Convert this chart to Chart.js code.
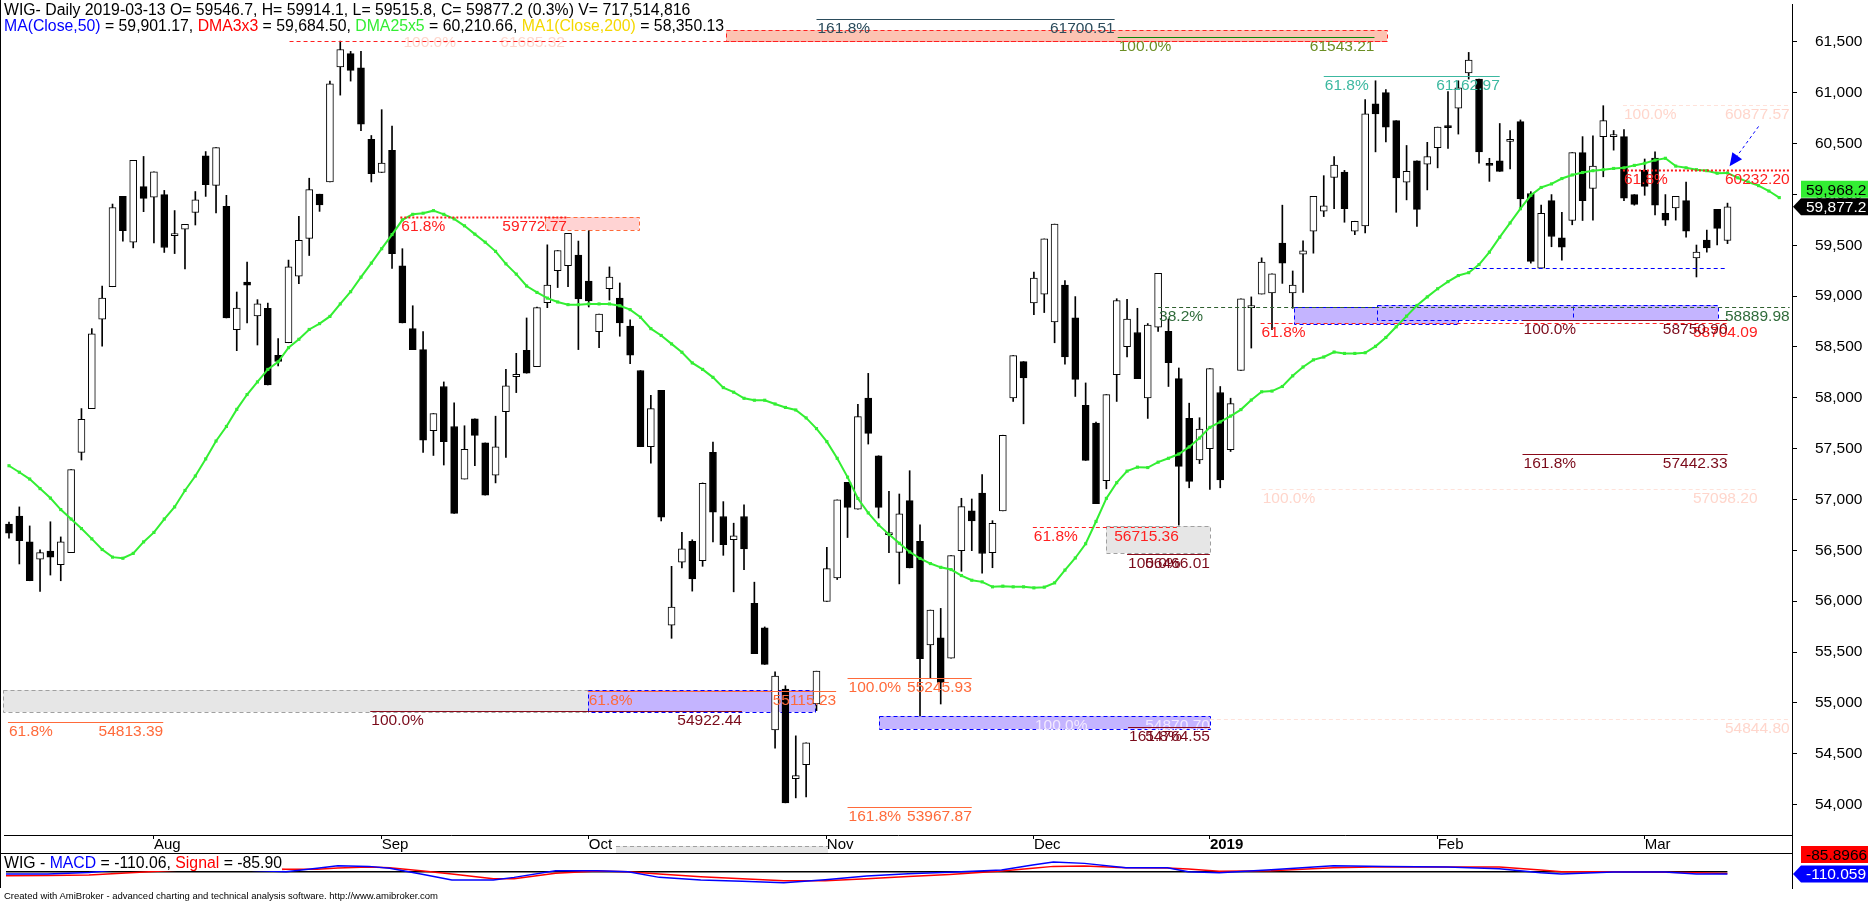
<!DOCTYPE html>
<html>
<head>
<meta charset="utf-8">
<script src="https://cdn.jsdelivr.net/npm/chart.js@4.4.1/dist/chart.umd.min.js"></script>
<style>
html, body { margin: 0; padding: 0; background: #fff; }
body { width: 1868px; height: 902px; position: relative; overflow: hidden; font-family: "Liberation Sans", Arial, sans-serif; }
#priceChart { position: absolute; left: 0; top: 0; }
#macdChart { position: absolute; left: 0; top: 835px; }
.ttl { position: absolute; left: 4px; font-size: 15.8px; line-height: 16px; white-space: nowrap; background: #fff; color: #000; }
#footer { position: absolute; left: 4px; top: 890px; font-size: 9.5px; line-height: 11px; white-space: nowrap; color: #000; }
</style>
</head>
<body>
<canvas id="priceChart" width="1868" height="854"></canvas>
<canvas id="macdChart" width="1868" height="67"></canvas>
<div class="ttl" style="top:2px">WIG- Daily 2019-03-13 O= 59546.7, H= 59914.1, L= 59515.8, C= 59877.2 (0.3%) V= 717,514,816</div>
<div class="ttl" style="top:18px"><span style="color:#0000ff">MA(Close,50)</span> = 59,901.17, <span style="color:#ff0000">DMA3x3</span> = 59,684.50, <span style="color:#33ee33">DMA25x5</span> = 60,210.66, <span style="color:#f5d800">MA1(Close,200)</span> = 58,350.13</div>
<div class="ttl" style="top:855px">WIG - <span style="color:#0000ff">MACD</span> = -110.06, <span style="color:#ff0000">Signal</span> = -85.90</div>
<div id="footer">Created with AmiBroker - advanced charting and technical analysis software. http://www.amibroker.com</div>
<script>
// daily bars, 2018-07-12 .. 2019-03-13 (index 0..166)
const opens = [56759,56837,56583,56414,56493,56358,56478,57463,57894,58774,59092,59980,59530,60077,59972,59998,59594,59657,59822,60380,
  60088,59882,58669,59137,58804,58879,58418,58541,59197,59568,60002,60122,61253,61384,61245,60541,60215,60433,59298,58680,
  58474,57676,58111,57718,57201,57792,57556,57238,57864,58208,58466,58305,58935,59249,59298,59403,59148,58650,59073,58980,
  58706,58268,57519,58073,55763,56384,56588,56399,57463,56833,56604,56833,55978,55737,54735,55136,54256,54393,54989,55997,
  56229,57168,56905,57996,57430,56654,56480,56989,56588,55570,55639,55440,56497,56888,57063,56476,56888,57999,58356,58932,
  59020,58747,59107,58786,57926,57751,57185,58227,58503,58642,57999,58695,58653,58188,57797,57388,57500,58052,57489,58268,
  58887,59020,59030,59520,59030,59411,59639,59834,60166,60219,59639,59691,60890,61001,60725,60121,60330,60296,60460,60673,
  60848,61194,61134,60302,60330,60522,60715,60009,59275,59939,59572,59743,60411,60058,60568,60568,60568,59998,60236,60358,
  59813,59866,59939,59376,59551,59852,59546.7];
const highs = [56777,56927,56740,56504,56781,56632,57294,57894,58680,59099,59905,59980,60335,60373,60223,60039,59841,59706,60028,60421,
  60459,59991,59040,59335,58965,58931,58583,59354,59785,60159,60002,61114,61507,61406,61406,60579,60833,60672,59466,58905,
  58650,57845,58156,57950,57725,57792,57556,57819,58279,58437,58785,58893,59504,59448,59616,59541,59642,58822,59287,59129,
  58766,58268,58025,58073,56343,56676,56604,57163,57564,56979,56767,56947,56187,55747,55306,55169,54676,54608,55312,56529,
  56996,57168,57936,58240,57430,57080,57054,57283,56751,55913,55929,56448,57012,57005,57245,56792,57632,58415,58356,59237,
  59562,59708,59153,58995,58146,57761,58031,58974,58967,58880,58730,59223,58775,58293,57947,57804,58286,58111,57996,58974,
  58992,59376,59219,59894,59247,59544,59981,60184,60372,60236,59736,60932,61117,61030,60725,60481,60330,60512,60662,61012,
  61117,61396,61134,60355,60697,60628,60732,60027,59894,59998,59824,60411,60568,60575,60872,60628,60638,59998,60348,60418,
  59998,59981,60121,59502,59649,59852,59914.1];
const lows = [56620,56366,56201,56096,56257,56201,56478,57388,57894,58508,59092,59541,59474,59830,59523,59429,59418,59268,59699,59980,
  59818,58785,58463,58736,58519,58126,58313,58541,59122,59399,59833,60122,60976,61114,60627,60122,60215,59272,58736,58474,
  57463,57433,57339,56864,57201,57332,57043,57163,57414,58051,58242,58305,58886,59084,59092,58474,58893,58493,58961,58605,
  58335,57519,57358,56789,55635,56328,56099,56343,56583,56451,56092,56311,55485,55378,54556,54017,54066,54076,54924,55997,
  56213,56626,56905,57545,56818,56476,56170,56327,54872,55244,54989,55440,56294,56497,56276,56329,56888,57964,57744,58817,
  58838,58541,58331,58013,57384,56958,57105,57964,58401,58188,57797,58653,58111,56748,57115,57353,57098,57115,57472,58268,
  58489,59020,58670,59125,58880,59037,59422,59782,59859,59726,59604,59621,60418,60516,59824,59946,59684,60044,60261,60453,
  60593,61134,60306,60128,60226,60250,59859,59324,59275,59485,59352,59701,59743,59747,60173,60435,59939,59894,59991,59799,
  59694,59747,59579,59188,59432,59502,59515.8];
const closes = [56669,56594,56201,56478,56433,56583,57294,57789,58628,58980,59871,59642,60335,59961,60223,59478,59613,59706,59946,60096,
  60459,58785,58882,59107,58923,58126,58358,59287,59549,60047,59897,61088,61425,61219,60691,60204,60309,59418,58736,58474,
  57583,57845,57568,56864,57493,57631,57043,57519,58118,58231,58242,58886,59107,59448,59616,58972,58953,58822,59186,58736,
  58418,57519,57894,56826,55942,56515,56219,57159,56875,56555,56643,56513,55485,55378,55263,54017,54285,54608,55312,56320,
  56996,56923,57814,57650,56923,56658,56859,56327,55436,55913,55202,56448,56930,56790,56469,56766,57632,58415,58195,59177,
  59562,59708,58401,58181,57384,56958,58031,58957,58775,58188,58716,59223,58345,57325,57178,57692,58286,57192,57943,58974,
  58904,59334,59219,59324,59107,59446,59981,59887,60289,59859,59736,60792,60792,60662,60163,60226,59852,60372,60662,60656,
  61047,61320,60418,60285,60226,60540,59956,59341,59813,59586,59481,60411,59939,60278,60725,60575,59963,59901,60079,59894,
  59747,59981,59639,59432,59474,59666,59877.2];

// DMA25x5 (green), shifted 5 bars forward -> index 0..171
const dma25x5 = [57332,57268,57201,57107,57014,56901,56808,56714,56613,56508,56433,56422,56470,56583,56676,56808,56927,57089,57231,57399,
  57575,57718,57886,58032,58156,58279,58354,58493,58575,58672,58729,58800,58923,59043,59186,59324,59466,59605,59750,59804,
  59815,59840,59804,59759,59691,59609,59530,59440,59317,59216,59099,59036,58980,58942,58916,58916,58923,58923,58923,58905,
  58867,58792,58680,58613,58530,58448,58343,58279,58201,58100,58055,57995,57976,57976,57939,57905,57880,57802,57697,57569,
  57405,57220,57010,56868,56750,56657,56570,56484,56420,56370,56333,56311,56252,56206,56190,56141,56148,56141,56141,56131,
  56138,56180,56306,56425,56565,56784,57011,57165,57279,57318,57314,57367,57405,57447,57517,57604,57709,57762,57820,57884,
  57978,58059,58066,58111,58216,58303,58373,58401,58450,58436,58436,58443,58506,58593,58698,58803,58908,58992,59072,59142,
  59202,59230,59310,59432,59579,59719,59859,59991,60068,60103,60156,60191,60215,60233,60243,60255,60261,60285,60306,60337,
  60355,60278,60261,60243,60233,60208,60211,60163,60121,60086,60033,59968.2];

const monthStarts = [14, 36, 56, 79, 99, 116, 138, 158];
const monthLabels = ['Aug', 'Sep', 'Oct', 'Nov', 'Dec', '2019', 'Feb', 'Mar'];
const priceTicks = [54000, 54500, 55000, 55500, 56000, 56500, 57000, 57500, 58000, 58500, 59000, 59500, 60000, 60500, 61000, 61500];

// MACD pane, read at these bar indexes
const macdIdx = [0,4,8,12,16,20,24,27,30,32,35,37,40,43,47,49,53,57,60,63,67,71,75,79,83,87,91,96,99,101,104,108,112,114,117,122,128,133,139,144,148,150,155,160,163,166];
const macdLine = [-110,-110,-40,150,250,200,60,0,157,282,250,157,-110,-391,-391,-266,47,47,0,-266,-391,-450,-520,-380,-200,-100,-30,78,313,454,391,188,188,0,-47,94,282,250,219,141,-47,-110,-16,-16,-110,-110.059];
const signalLine = [-188,-180,-150,-50,60,150,150,110,110,172,219,188,47,-110,-329,-329,-78,31,0,-110,-235,-330,-420,-430,-330,-220,-130,31,157,250,266,188,172,125,16,47,188,235,219,219,78,0,0,-31,-47,-85.8966];

// fibonacci levels drawn by the formula: bar range, price, texts
const fibLines = [
  {from: 78.0, to: 106.8, level: 61720, left: '161.8%', right: '61700.51', kind: 'slate'},
  {from: 107.1, to: 131.9, level: 61543.21, left: '100.0%', right: '61543.21', kind: 'green'},
  {from: 127.0, to: 144.0, level: 61162.97, left: '61.8%', right: '61162.97', kind: 'teal'},
  {from: 38.0, to: 53.7, level: 61590, left: '100.0%', right: '61685.32', kind: 'faint'},
  {from: 27.1, to: 133.1, level: 61510, left: '', right: '', kind: 'redDash'},
  {from: 155.9, to: 172.0, level: 60880, left: '100.0%', right: '60877.57', kind: 'faint'},
  {from: 155.9, to: 172.0, level: 60243, left: '61.8%', right: '60232.20', kind: 'redDot'},
  {from: 37.8, to: 53.9, level: 59778, left: '61.8%', right: '59772.77', kind: 'redDot'},
  {from: 141.0, to: 166.0, level: 59275, left: '', right: '', kind: 'blueDash'},
  {from: 111.0, to: 172.0, level: 58891, left: '38.2%', right: '58889.98', kind: 'dkGreen'},
  {from: 120.9, to: 166.0, level: 58738, left: '61.8%', right: '58704.09', kind: 'redDash', labelTo: 168.9},
  {from: 146.2, to: 166.0, level: 58768, left: '100.0%', right: '58750.90', kind: 'maroon'},
  {from: 146.2, to: 166.0, level: 57447, left: '161.8%', right: '57442.33', kind: 'maroon'},
  {from: 121.0, to: 168.9, level: 57108, left: '100.0%', right: '57098.20', kind: 'faint'},
  {from: 98.9, to: 113.0, level: 56725, left: '61.8%', right: '56715.36', kind: 'redDash'},
  {from: 108.0, to: 116.0, level: 56466, left: '100.0%', right: '56466.01', kind: 'maroon'},
  {from: 81.0, to: 93.0, level: 55246, left: '100.0%', right: '55245.93', kind: 'coral'},
  {from: 55.9, to: 79.9, level: 55113, left: '61.8%', right: '55115.23', kind: 'coral'},
  {from: 34.9, to: 70.8, level: 54924, left: '100.0%', right: '54922.44', kind: 'maroon'},
  {from: 99.0, to: 116.0, level: 54872, left: '100.0%', right: '54870.70', kind: 'ghost'},
  {from: 116.0, to: 172.0, level: 54845, left: '', right: '54844.80', kind: 'faint'},
  {from: -0.1, to: 14.9, level: 54817, left: '61.8%', right: '54813.39', kind: 'coral'},
  {from: 108.1, to: 116.0, level: 54762, left: '161.8%', right: '54764.55', kind: 'maroon'},
  {from: 81.0, to: 93.0, level: 53972, left: '161.8%', right: '53967.87', kind: 'coral'}
];
const fibBoxes = [
  {from: 69.3, to: 133.1, top: 61617, bottom: 61510, kind: 'salmon'},
  {from: 51.8, to: 60.9, top: 59778, bottom: 59654, kind: 'pink'},
  {from: -0.6, to: 55.9, top: 55127, bottom: 54914, kind: 'grey'},
  {from: 55.9, to: 77.9, top: 55127, bottom: 54914, kind: 'lavender'},
  {from: 84.0, to: 116.0, top: 54872, bottom: 54745, kind: 'lavender'},
  {from: 106.0, to: 116.0, top: 56735, bottom: 56474, kind: 'grey'},
  {from: 124.1, to: 140.0, top: 58891, bottom: 58723, kind: 'lavender'},
  {from: 132.1, to: 151.1, top: 58908, bottom: 58768, kind: 'lavender'},
  {from: 151.1, to: 165.1, top: 58908, bottom: 58768, kind: 'lavender'}
];
const arrowFrom = [169.0, 60668];
const arrowTo = [166.2, 60276];
const stripBox = [58.6, 79.1];

const lineStyles = {
  slate:    {line: '#2b4c5c', text: '#2b4c5c', dash: [], width: 1},
  green:    {line: '#0a8a0a', text: '#6b8e23', dash: [], width: 1},
  teal:     {line: '#3cb8a0', text: '#3cb8a0', dash: [], width: 1},
  faint:    {line: '#ffe2da', text: '#ffd6cc', dash: [4, 3], width: 1},
  redDot:   {line: '#ff1a1a', text: '#ff2020', dash: [2, 2], width: 2},
  redDash:  {line: '#ff2020', text: '#ff2020', dash: [4, 3], width: 1},
  dkGreen:  {line: '#2f5f2f', text: '#2f6b3a', dash: [4, 3], width: 1},
  maroon:   {line: '#8b0a1a', text: '#7a0a1a', dash: [], width: 1},
  coral:    {line: '#ff6a3a', text: '#ff6a3a', dash: [], width: 1},
  ghost:    {line: null, text: '#f3e9ff', dash: [], width: 1},
  blueDash: {line: '#0000ff', text: '#0000ff', dash: [4, 3], width: 1}
};
const boxStyles = {
  salmon:   {fill: '#fcc3b2', stroke: '#ff2020'},
  pink:     {fill: '#ffd3d3', stroke: '#ff6a3a'},
  grey:     {fill: '#e6e6e6', stroke: '#a0a0a0'},
  lavender: {fill: '#c4b4ff', stroke: '#0000ff'}
};

const FONT = '"Liberation Sans", Arial, sans-serif';
const labelFont = '15.5px ' + FONT;
Chart.defaults.font.family = FONT;
Chart.defaults.color = '#000';

const xMin = -0.482, xMax = 172.23;
const last = closes.length - 1;
const fmt1 = v => v.toLocaleString('en-US', {minimumFractionDigits: 1, maximumFractionDigits: 1});

// keep the plot area fixed: no extra padding around the axes
function noPad(s) {
  s.paddingTop = 0;
  s.paddingBottom = 0;
  s.paddingLeft = 0;
  s.paddingRight = 0;
}

function labelBox(ctx, text, yMid, bg, fg, left, arrow) {
  const h = 17;
  ctx.fillStyle = bg;
  ctx.beginPath();
  if (arrow) {
    ctx.moveTo(left - 8, yMid);
    ctx.lineTo(left, yMid - h / 2);
  } else {
    ctx.moveTo(left, yMid - h / 2);
  }
  ctx.lineTo(1868, yMid - h / 2);
  ctx.lineTo(1868, yMid + h / 2);
  ctx.lineTo(left, yMid + h / 2);
  ctx.closePath();
  ctx.fill();
  ctx.fillStyle = fg;
  ctx.font = labelFont;
  ctx.textAlign = 'left';
  ctx.textBaseline = 'middle';
  ctx.fillText(text, left + 5, yMid + 1);
}

const fibPlugin = {
  id: 'fib',
  beforeDatasetsDraw(chart) {
    const {ctx} = chart;
    const xs = chart.scales.x, ys = chart.scales.y;
    ctx.save();
    fibBoxes.forEach(b => {
      const st = boxStyles[b.kind];
      const x0 = Math.round(xs.getPixelForValue(b.from)), x1 = Math.round(xs.getPixelForValue(b.to));
      const y0 = Math.round(ys.getPixelForValue(b.top)), y1 = Math.round(ys.getPixelForValue(b.bottom));
      ctx.fillStyle = st.fill;
      ctx.fillRect(x0, y0, x1 - x0, y1 - y0);
      ctx.setLineDash([4, 3]);
      ctx.strokeStyle = st.stroke;
      ctx.lineWidth = 1;
      ctx.strokeRect(x0 + 0.5, y0 + 0.5, x1 - x0, y1 - y0);
    });
    ctx.restore();
  },
  afterDatasetsDraw(chart) {
    const {ctx} = chart;
    const xs = chart.scales.x, ys = chart.scales.y;
    ctx.save();
    fibLines.forEach(f => {
      const st = lineStyles[f.kind];
      const x0 = xs.getPixelForValue(f.from), x1 = xs.getPixelForValue(f.to);
      const yy = Math.round(ys.getPixelForValue(f.level)) + 0.5;
      if (st.line) {
        ctx.beginPath();
        ctx.setLineDash(st.dash);
        ctx.lineWidth = st.width;
        ctx.strokeStyle = st.line;
        ctx.moveTo(x0, yy);
        ctx.lineTo(x1, yy);
        ctx.stroke();
      }
      ctx.setLineDash([]);
      ctx.fillStyle = st.text;
      ctx.font = labelFont;
      ctx.textBaseline = 'top';
      if (f.left) {
        ctx.textAlign = 'left';
        ctx.fillText(f.left, x0 + 1, yy + 1);
      }
      if (f.right) {
        ctx.textAlign = 'right';
        ctx.fillText(f.right, xs.getPixelForValue(f.labelTo !== undefined ? f.labelTo : f.to), yy + 1);
      }
    });
    // dashed blue arrow
    const ax0 = xs.getPixelForValue(arrowFrom[0]), ay0 = ys.getPixelForValue(arrowFrom[1]);
    const ax1 = xs.getPixelForValue(arrowTo[0]), ay1 = ys.getPixelForValue(arrowTo[1]);
    const ang = Math.atan2(ay1 - ay0, ax1 - ax0);
    ctx.strokeStyle = '#0000ff';
    ctx.fillStyle = '#0000ff';
    ctx.lineWidth = 1;
    ctx.setLineDash([3, 3]);
    ctx.beginPath();
    ctx.moveTo(ax0, ay0);
    ctx.lineTo(ax1 - 8 * Math.cos(ang), ay1 - 8 * Math.sin(ang));
    ctx.stroke();
    ctx.setLineDash([]);
    ctx.beginPath();
    ctx.moveTo(ax1, ay1);
    ctx.lineTo(ax1 - 13 * Math.cos(ang) + 6 * Math.sin(ang), ay1 - 13 * Math.sin(ang) - 6 * Math.cos(ang));
    ctx.lineTo(ax1 - 13 * Math.cos(ang) - 6 * Math.sin(ang), ay1 - 13 * Math.sin(ang) + 6 * Math.cos(ang));
    ctx.closePath();
    ctx.fill();
    ctx.restore();
  },
  afterDraw(chart) {
    const {ctx, chartArea} = chart;
    const xs = chart.scales.x, ys = chart.scales.y;
    ctx.save();
    ctx.fillStyle = '#000';
    ctx.fillRect(0, 0, 1, chart.height);
    ctx.fillRect(0, chart.height - 1, chartArea.right + 1, 1);
    ctx.fillRect(chartArea.right, chartArea.bottom, 1, chart.height - chartArea.bottom);
    // grey zone in the date strip
    const sx0 = Math.round(xs.getPixelForValue(stripBox[0])), sx1 = Math.round(xs.getPixelForValue(stripBox[1]));
    ctx.fillStyle = '#e6e6e6';
    ctx.fillRect(sx0, chartArea.bottom + 11, sx1 - sx0, 7);
    ctx.strokeStyle = '#a0a0a0';
    ctx.setLineDash([4, 3]);
    ctx.beginPath();
    ctx.moveTo(sx0, chartArea.bottom + 11.5);
    ctx.lineTo(sx1, chartArea.bottom + 11.5);
    ctx.stroke();
    ctx.setLineDash([]);
    // value labels on the price axis
    const yClose = ys.getPixelForValue(closes[last]);
    labelBox(ctx, fmt1(dma25x5[dma25x5.length - 1]), yClose - 17.5, '#33ee33', '#000', chartArea.right + 9, false);
    labelBox(ctx, fmt1(closes[last]), yClose, '#000', '#fff', chartArea.right + 9, true);
    ctx.restore();
  }
};

new Chart(document.getElementById('priceChart'), {
  type: 'bar',
  data: {
    datasets: [
      {
        type: 'line',
        label: 'DMA25x5',
        data: dma25x5.map((v, i) => ({x: i, y: v})),
        borderColor: '#33ee33',
        backgroundColor: '#33ee33',
        borderWidth: 2,
        pointStyle: 'rect',
        pointRadius: 2.2,
        pointBorderWidth: 0,
        tension: 0,
        order: 0
      },
      {
        label: 'body',
        data: opens.map((o, i) => ({x: i, y: [o, closes[i]]})),
        backgroundColor: opens.map((o, i) => closes[i] >= o ? '#ffffff' : '#000000'),
        borderColor: '#000',
        borderWidth: 1,
        borderSkipped: false,
        barThickness: 7,
        minBarLength: 2,
        grouped: false,
        order: 1
      },
      {
        label: 'wick',
        data: lows.map((l, i) => ({x: i, y: [l, highs[i]]})),
        backgroundColor: '#000',
        borderWidth: 0,
        barThickness: 1,
        grouped: false,
        order: 2
      }
    ]
  },
  options: {
    responsive: false,
    animation: false,
    layout: {padding: {left: 1, right: 0, top: 0, bottom: 0}},
    plugins: {legend: {display: false}, tooltip: {enabled: false}},
    scales: {
      x: {
        type: 'linear',
        min: xMin,
        max: xMax,
        offset: false,
        afterFit: s => { s.height = 19; noPad(s); },
        afterBuildTicks: s => { s.ticks = monthStarts.map(v => ({value: v})); },
        grid: {offset: false, drawOnChartArea: false, tickLength: 4, color: '#000'},
        border: {display: true, color: '#000'},
        ticks: {
          autoSkip: false,
          maxRotation: 0,
          align: 'start',
          padding: -3,
          color: '#000',
          font: ctx => ({size: 15, weight: ctx.tick && ctx.tick.label === '2019' ? 'bold' : 'normal'}),
          callback: v => monthLabels[monthStarts.indexOf(v)]
        }
      },
      y: {
        position: 'right',
        min: 53701,
        max: 61872,
        afterFit: s => { s.width = 76; noPad(s); },
        afterBuildTicks: s => { s.ticks = priceTicks.map(v => ({value: v})); },
        grid: {drawOnChartArea: false, tickLength: 5, color: '#000'},
        border: {display: true, color: '#000'},
        ticks: {
          padding: 18,
          color: '#000',
          font: {size: 15.5},
          callback: v => v.toLocaleString('en-US')
        }
      }
    }
  },
  plugins: [fibPlugin]
});

const macdPlugin = {
  id: 'macdLabels',
  afterDraw(chart) {
    const {ctx, chartArea} = chart;
    const ys = chart.scales.y;
    ctx.save();
    ctx.fillStyle = '#000';
    ctx.fillRect(0, chartArea.top, 1, chartArea.bottom - chartArea.top);
    const yM = ys.getPixelForValue(macdLine[macdLine.length - 1]);
    labelBox(ctx, String(signalLine[signalLine.length - 1].toFixed(4)), yM - 19.5, '#ff0000', '#000', chartArea.right + 9, false);
    labelBox(ctx, String(macdLine[macdLine.length - 1].toFixed(3)), yM, '#0000ff', '#fff', chartArea.right + 9, true);
    ctx.restore();
  }
};

new Chart(document.getElementById('macdChart'), {
  type: 'line',
  data: {
    datasets: [
      {
        label: 'MACD',
        data: macdIdx.map((i, k) => ({x: i, y: macdLine[k]})),
        borderColor: '#0000ff',
        borderWidth: 1.5,
        pointRadius: 0,
        tension: 0,
        order: 0
      },
      {
        label: 'Signal',
        data: macdIdx.map((i, k) => ({x: i, y: signalLine[k]})),
        borderColor: '#ff0000',
        borderWidth: 1.5,
        pointRadius: 0,
        tension: 0,
        order: 1
      },
      {
        label: 'zero',
        data: [{x: 0, y: 0}, {x: last, y: 0}],
        borderColor: '#000',
        borderWidth: 1.5,
        pointRadius: 0,
        order: 2
      }
    ]
  },
  options: {
    responsive: false,
    animation: false,
    layout: {padding: {left: 1, right: 0, top: 19, bottom: 14}},
    plugins: {legend: {display: false}, tooltip: {enabled: false}},
    scales: {
      x: {type: 'linear', min: xMin, max: xMax, display: false},
      y: {
        position: 'right',
        min: -765,
        max: 831,
        afterFit: s => { s.width = 76; noPad(s); },
        grid: {display: false},
        border: {display: true, color: '#000'},
        ticks: {display: false}
      }
    }
  },
  plugins: [macdPlugin]
});
</script>
</body>
</html>
